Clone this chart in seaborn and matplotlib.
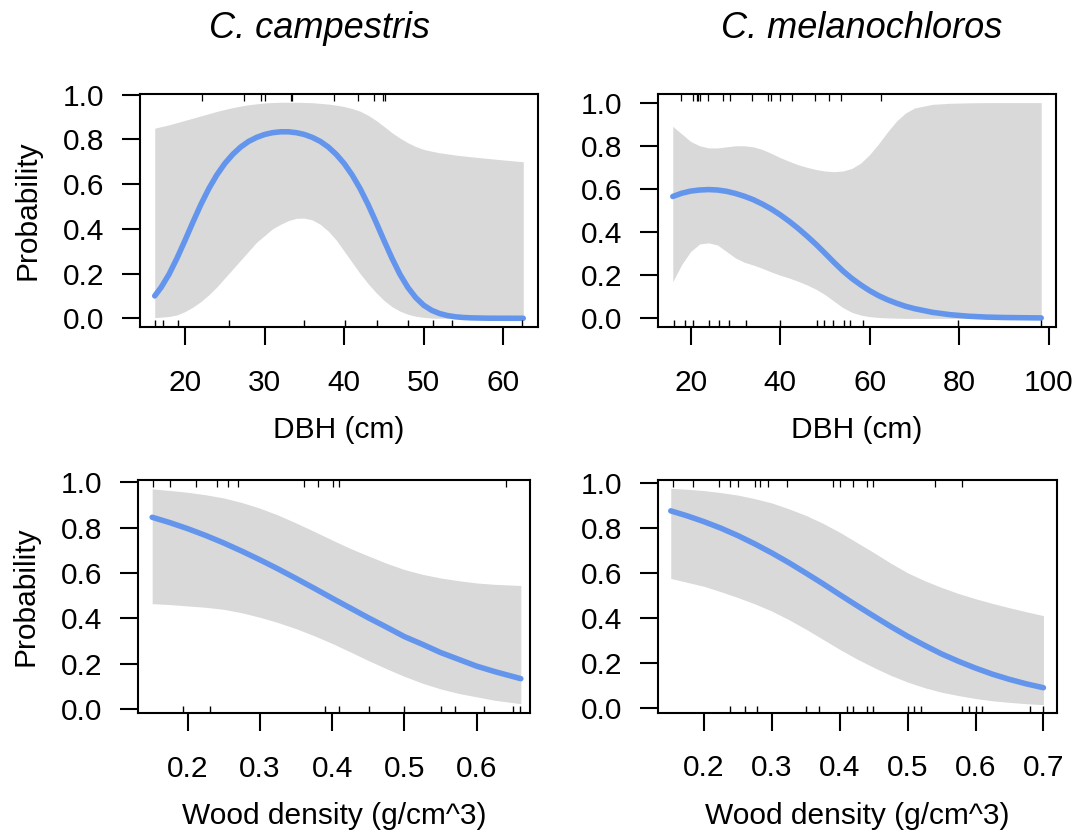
import numpy as np
import pandas as pd
import matplotlib
matplotlib.use("Agg")
import matplotlib.pyplot as plt
import seaborn as sns

sns.set_style("ticks")
plt.rcParams['font.family'] = ['Liberation Sans', 'DejaVu Sans']

# ---------------- data ----------------
# Panel 1: C. campestris, DBH
dbh1_x = [16.2, 17, 18, 19, 20, 21, 22, 23, 24, 25, 26, 27, 28, 29, 30, 31, 32, 33, 34, 35, 36, 37, 38, 39, 40,
          41, 42, 43, 44, 45, 46, 47, 48, 49, 50, 51, 52, 53, 54, 55, 56, 58, 60, 62.5]
dbh1_fit = [0.100, 0.138, 0.197, 0.269, 0.348, 0.430, 0.509, 0.580, 0.641, 0.692, 0.733, 0.766, 0.791, 0.809,
            0.822, 0.830, 0.834, 0.834, 0.830, 0.822, 0.809, 0.791, 0.766, 0.733, 0.692, 0.641, 0.580, 0.509,
            0.430, 0.348, 0.269, 0.197, 0.138, 0.092, 0.058, 0.0355, 0.021, 0.012, 0.0065, 0.0035, 0.0018,
            0.0004, 0.0001, 0.0]
dbh1_upr = [0.850, 0.857, 0.865, 0.875, 0.885, 0.895, 0.905, 0.915, 0.925, 0.934, 0.942, 0.949, 0.955, 0.959,
            0.963, 0.965, 0.966, 0.966, 0.966, 0.965, 0.964, 0.961, 0.958, 0.953, 0.947, 0.938, 0.926, 0.908,
            0.885, 0.858, 0.830, 0.806, 0.785, 0.768, 0.755, 0.747, 0.740, 0.735, 0.730, 0.726, 0.722, 0.715,
            0.708, 0.700]
dbh1_lwr = [0.003, 0.005, 0.008, 0.015, 0.030, 0.050, 0.075, 0.105, 0.140, 0.180, 0.220, 0.260, 0.300, 0.340,
            0.370, 0.400, 0.420, 0.437, 0.447, 0.448, 0.440, 0.420, 0.390, 0.350, 0.300, 0.250, 0.200, 0.155,
            0.115, 0.080, 0.052, 0.032, 0.018, 0.009, 0.004, 0.001, 0.0, 0.0, 0.0, 0.0, 0.0, 0.0, 0.0, 0.0]
dbh1_rug_pres = [22.1, 27.4, 29.5, 30.0, 33.3, 33.5, 38.7, 41.7, 43.8, 44.9, 45.1]
dbh1_rug_abs = [16.2, 17.2, 19.1, 25.5, 35.0, 40.1, 44.1, 48.0, 51.1, 53.5, 62.4]

# Panel 2: C. melanochloros, DBH
dbh2_x = [16, 18, 20, 22, 24, 26, 28, 30, 32, 34, 36, 38, 40, 42, 44, 46, 48, 50, 52, 54, 56, 58, 60, 62, 64, 66,
          68, 70, 74, 78, 82, 86, 90, 94, 98.3]
dbh2_fit = [0.565, 0.58, 0.59, 0.595, 0.597, 0.595, 0.589, 0.579, 0.566, 0.55, 0.53, 0.507, 0.48, 0.45, 0.417,
            0.381, 0.343, 0.302, 0.26, 0.22, 0.185, 0.155, 0.128, 0.105, 0.086, 0.07, 0.056, 0.045, 0.028, 0.017,
            0.01, 0.006, 0.004, 0.003, 0.002]
dbh2_upr = [0.89, 0.855, 0.82, 0.80, 0.79, 0.79, 0.795, 0.80, 0.80, 0.795, 0.783, 0.765, 0.745, 0.728, 0.712,
            0.70, 0.69, 0.683, 0.68, 0.683, 0.695, 0.72, 0.76, 0.81, 0.865, 0.915, 0.952, 0.975, 0.992, 0.997,
            0.999, 1.0, 1.0, 1.0, 1.0]
dbh2_lwr = [0.17, 0.25, 0.31, 0.345, 0.35, 0.34, 0.31, 0.28, 0.26, 0.247, 0.232, 0.215, 0.20, 0.187, 0.172, 0.155,
            0.135, 0.11, 0.08, 0.05, 0.028, 0.015, 0.008, 0.004, 0.002, 0.001, 0.0, 0.0, 0.0, 0.0, 0.0, 0.0, 0.0,
            0.0, 0.0]
dbh2_rug_pres = [17.9, 20.6, 21.3, 21.7, 22.1, 23.9, 27.3, 28.7, 33.8, 37.3, 37.9, 39.9, 42.7, 47.8, 50.8, 53.6, 62.4]
dbh2_rug_abs = [16.3, 18.8, 20.5, 24.1, 26.4, 28.6, 32.3, 39.9, 48.3, 49.8, 51.9, 54.2, 55.6, 58.5, 79.6, 98.3]

# Panel 3: C. campestris, wood density
wd1_x = [0.151, 0.175, 0.2, 0.225, 0.25, 0.275, 0.3, 0.325, 0.35, 0.375, 0.4, 0.425, 0.45, 0.475, 0.5, 0.525,
         0.55, 0.575, 0.6, 0.625, 0.661]
wd1_fit = [0.845, 0.822, 0.795, 0.765, 0.732, 0.696, 0.658, 0.618, 0.576, 0.533, 0.489, 0.446, 0.403, 0.362, 0.32,
           0.286, 0.25, 0.22, 0.19, 0.166, 0.135]
wd1_upr = [0.97, 0.963, 0.955, 0.944, 0.93, 0.91, 0.885, 0.855, 0.82, 0.783, 0.745, 0.708, 0.675, 0.643, 0.615,
           0.594, 0.578, 0.566, 0.556, 0.55, 0.545]
wd1_lwr = [0.465, 0.461, 0.455, 0.449, 0.44, 0.425, 0.405, 0.382, 0.355, 0.324, 0.29, 0.253, 0.215, 0.179, 0.145,
           0.115, 0.09, 0.07, 0.055, 0.04, 0.025]
wd1_rug_pres = [0.1516, 0.1761, 0.2115, 0.2406, 0.2554, 0.2693, 0.3604, 0.3803, 0.4006, 0.4097, 0.6405]
wd1_rug_abs = [0.1937, 0.2304, 0.3907, 0.4101, 0.4507, 0.5, 0.5507, 0.5700, 0.6101, 0.6497, 0.6598]

# Panel 4: C. melanochloros, wood density
wd2_x = [0.151, 0.175, 0.2, 0.225, 0.25, 0.275, 0.3, 0.325, 0.35, 0.375, 0.4, 0.425, 0.45, 0.475, 0.5, 0.525,
         0.55, 0.575, 0.6, 0.625, 0.65, 0.675, 0.7]
wd2_fit = [0.875, 0.853, 0.827, 0.798, 0.765, 0.728, 0.688, 0.645, 0.599, 0.552, 0.503, 0.455, 0.408, 0.362,
           0.318, 0.278, 0.24, 0.207, 0.177, 0.15, 0.127, 0.107, 0.09]
wd2_upr = [0.975, 0.971, 0.965, 0.956, 0.945, 0.929, 0.91, 0.884, 0.855, 0.82, 0.78, 0.735, 0.69, 0.643, 0.60,
           0.565, 0.535, 0.508, 0.485, 0.464, 0.445, 0.427, 0.41]
wd2_lwr = [0.575, 0.558, 0.54, 0.516, 0.49, 0.462, 0.43, 0.392, 0.35, 0.305, 0.26, 0.218, 0.18, 0.145, 0.115,
           0.09, 0.07, 0.055, 0.042, 0.032, 0.025, 0.019, 0.015]
wd2_rug_pres = [0.1536, 0.1832, 0.2227, 0.2386, 0.2494, 0.2752, 0.2831, 0.2939, 0.3217, 0.3899, 0.3998, 0.4196,
                0.4404, 0.4493, 0.5398, 0.5798]
wd2_rug_abs = [0.239, 0.2598, 0.2776, 0.3499, 0.3696, 0.4102, 0.42, 0.4404, 0.4493, 0.5, 0.5099, 0.5190, 0.5803,
               0.5902, 0.6, 0.6099, 0.6803, 0.7]

titles = ["C. campestris", "C. melanochloros"]
xlabels = ["DBH (cm)", "DBH (cm)", "Wood density (g/cm^3)", "Wood density (g/cm^3)"]
yticks = [0.0, 0.2, 0.4, 0.6, 0.8, 1.0]
xticks_list = [[20, 30, 40, 50, 60], [20, 40, 60, 80, 100], [0.2, 0.3, 0.4, 0.5, 0.6], [0.2, 0.3, 0.4, 0.5, 0.6, 0.7]]

panels = [
    (dbh1_x, dbh1_fit, dbh1_upr, dbh1_lwr, dbh1_rug_pres, dbh1_rug_abs),
    (dbh2_x, dbh2_fit, dbh2_upr, dbh2_lwr, dbh2_rug_pres, dbh2_rug_abs),
    (wd1_x, wd1_fit, wd1_upr, wd1_lwr, wd1_rug_pres, wd1_rug_abs),
    (wd2_x, wd2_fit, wd2_upr, wd2_lwr, wd2_rug_pres, wd2_rug_abs),
]

# ---------------- layout ----------------
W, H = 1077, 834
boxes_px = [(140, 538, 94, 327), (658, 1056, 94, 327), (138, 530, 480, 713), (658, 1057, 480, 712.5)]
xlims = [(14.35, 64.35), (12.7, 101.6), (0.1314, 0.6737), (0.1322, 0.72)]
ylims = [(-0.039, 1.003), (-0.04, 1.04), (-0.016, 1.009), (-0.02, 1.012)]

LINE_COL = "#6495ED"
BAND_COL = "#D9D9D9"
FS = 21.5

fig = plt.figure(figsize=(W / 100, H / 100), dpi=100)
for i, (xs, fit, upr, lwr, rp, ra) in enumerate(panels):
    l, r, t, b = boxes_px[i]
    ax = fig.add_axes([l / W, 1 - b / H, (r - l) / W, (b - t) / H])
    ax.fill_between(xs, lwr, upr, color=BAND_COL, lw=0)
    df = pd.DataFrame({"x": xs, "y": fit})
    sns.lineplot(data=df, x="x", y="y", ax=ax, color=LINE_COL, lw=4.0, solid_capstyle="round")
    sns.rugplot(x=ra, ax=ax, height=0.03, color="black", lw=0.9, expand_margins=False)
    ax.vlines(rp, 0.97, 1.0, transform=ax.get_xaxis_transform(), color="black", lw=0.9)
    ax.set_xlim(*xlims[i])
    ax.set_ylim(*ylims[i])
    ax.set_xticks(xticks_list[i])
    ax.set_xticklabels([f"{v:g}" for v in xticks_list[i]])
    ax.set_yticks(yticks)
    ax.set_yticklabels([f"{v:.1f}" for v in yticks])
    for s in ax.spines.values():
        s.set_visible(True)
        s.set_color("black")
        s.set_linewidth(1.5)
    ax.tick_params(axis="both", direction="out", length=13, width=1.5, color="black",
                   labelsize=FS, labelcolor="black")
    ax.tick_params(axis="x", pad=17)
    ax.tick_params(axis="y", pad=13)
    ax.set_xlabel(xlabels[i], fontsize=FS, color="black")
    ax.xaxis.label.set_va("center")
    ax.xaxis.set_label_coords(0.5, -103 / (b - t))
    if i % 2 == 0:
        ax.set_ylabel("Probability", fontsize=FS, color="black")
        ax.yaxis.label.set_va("center")
        ax.yaxis.set_label_coords(-112 / (r - l), 0.5)
    else:
        ax.set_ylabel("")

fig.text(320 / W, 1 - 28 / H, titles[0], fontsize=26, style="italic", ha="center", va="center", color="black")
fig.text(862 / W, 1 - 28 / H, titles[1], fontsize=26, style="italic", ha="center", va="center", color="black")

fig.savefig("out.png", dpi=100, facecolor="white")
